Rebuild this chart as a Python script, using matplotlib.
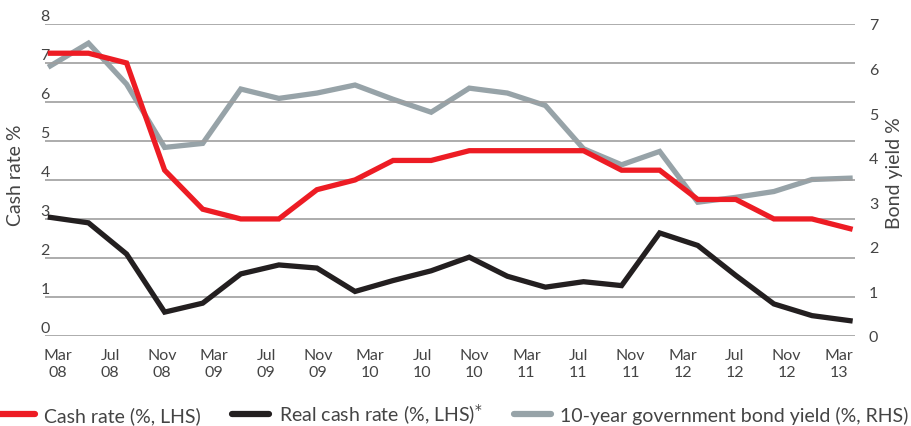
import numpy as np
import matplotlib.pyplot as plt
from matplotlib.transforms import ScaledTranslation

# Data
cash_rate = [7.25, 7.25, 7.0, 4.25, 3.25, 3.0, 3.0, 3.75, 4.0, 4.5, 4.5,
             4.75, 4.75, 4.75, 4.75, 4.25, 4.25, 3.5, 3.5, 3.0, 3.0, 2.75]
real_cash_rate = [3.04, 2.9, 2.1, 0.61, 0.84, 1.59, 1.82, 1.74, 1.14, 1.42, 1.67,
                  2.02, 1.53, 1.25, 1.39, 1.29, 2.64, 2.32, 1.55, 0.82, 0.52, 0.39]
bond_yield = [6.06, 6.57, 5.65, 4.23, 4.32, 5.54, 5.33, 5.45, 5.63, 5.31, 5.02,
              5.56, 5.45, 5.17, 4.2, 3.84, 4.14, 3.0, 3.11, 3.24, 3.51, 3.54]
tick_labels = ['Mar\n08', 'Jul\n08', 'Nov\n08', 'Mar\n09', 'Jul\n09', 'Nov\n09',
               'Mar\n10', 'Jul\n10', 'Nov\n10', 'Mar\n11', 'Jul\n11', 'Nov\n11',
               'Mar\n12', 'Jul\n12', 'Nov\n12', 'Mar\n13']

RED = '#ed1c24'
BLACK = '#231f20'
GREY = '#97a3a8'
TXT = '#444444'

plt.rcParams['font.family'] = ['Lato', 'DejaVu Sans']

x = np.arange(len(cash_rate))

fig = plt.figure(figsize=(9.12, 4.27), dpi=100)
ax = fig.add_axes([0.049, 0.211, 0.8885, 0.7305])
ax2 = ax.twinx()

ax.set_ylim(0, 8)
ax2.set_ylim(0, 7)
ax.set_xlim(-0.15, len(x) - 1 + 0.13)

ax.set_yticks(range(0, 9))
ax.yaxis.grid(True, color='#9e9e9e', lw=1.2)
ax.set_axisbelow(True)
ax2.set_yticks(range(0, 8))

for a in (ax, ax2):
    for s in a.spines.values():
        s.set_visible(False)
    a.tick_params(length=0, labelsize=11.5, labelcolor=TXT)

ax.set_xticks(np.linspace(0.2, 20.7, len(tick_labels)))
ax.set_xticklabels(tick_labels, linespacing=1.25)
ax.tick_params(axis='x', pad=9)
ax.tick_params(axis='y', pad=0)
ax2.tick_params(axis='y', pad=10)

# left labels sit a little above their gridlines
for lab in ax.get_yticklabels():
    lab.set_transform(lab.get_transform() + ScaledTranslation(5 / 100, 9 / 100, fig.dpi_scale_trans))

l1, = ax.plot(x, cash_rate, color=RED, lw=3.8, solid_joinstyle='miter', zorder=4)
l2, = ax.plot(x, real_cash_rate, color=BLACK, lw=3.8, solid_joinstyle='miter', zorder=4)
l3, = ax2.plot(x, bond_yield, color=GREY, lw=3.8, solid_joinstyle='miter', zorder=3)
ax.set_zorder(ax2.get_zorder() + 1)
ax.patch.set_visible(False)

fig.text(0.017, 0.59, 'Cash rate %', rotation=90, ha='center', va='center',
         fontsize=14, color=TXT)
fig.text(0.981, 0.595, 'Bond yield %', rotation=90, ha='center', va='center',
         fontsize=14, color=TXT)

leg = fig.legend([l1, l2, l3],
                 ['Cash rate (%, LHS)', 'Real cash rate (%, LHS)$^{*}$',
                  '10-year government bond yield (%, RHS)'],
                 loc='center', bbox_to_anchor=(0.497, 0.028), ncol=3, frameon=False,
                 fontsize=14, handlelength=1.9, handletextpad=0.5, columnspacing=1.6,
                 labelcolor=TXT)
for h in leg.legend_handles:
    h.set_linewidth(4.5)
    h.set_solid_capstyle('round')

fig.savefig('out.png', dpi=100)
